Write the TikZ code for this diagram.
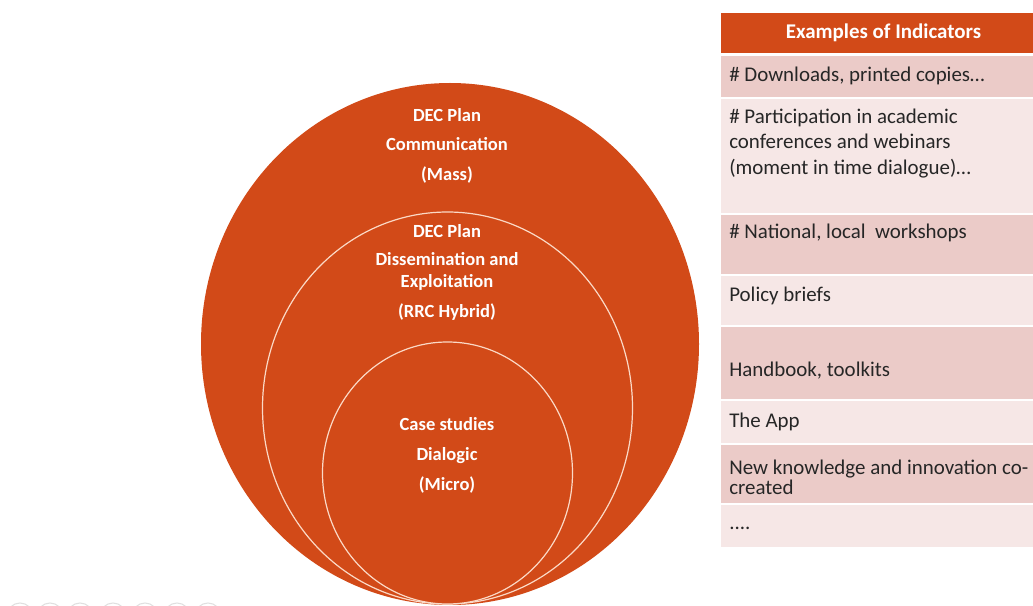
\documentclass[tikz,border=0pt]{standalone}
\usepackage{fontspec}
\setmainfont{Carlito}
\definecolor{orng}{HTML}{D24A18}
\definecolor{rowdark}{HTML}{EBCBC8}
\definecolor{rowlight}{HTML}{F6E7E6}
\definecolor{ringline}{HTML}{FBD9C6}
\tikzset{
  ctext/.style={anchor=base, text=white, font=\fontsize{13.9}{16.5}\selectfont\bfseries, inner sep=0pt, align=center},
  ttext/.style={anchor=base west, text=black!85, font=\fontsize{15.7}{19.1}\selectfont, inner sep=0pt, align=left},
  ring/.style={draw=ringline, line width=0.9pt, fill=orng},
  cell/.style={anchor=north west, inner sep=0pt, draw=none},
}
\begin{document}
\begin{tikzpicture}[x=0.75pt, y=-0.75pt]
\useasboundingbox (0,0) rectangle (1033,606);
\fill[white] (0,0) rectangle (1033,606);
% faint navigation dots
\foreach \cx in {20,50,80,113,145,177,208}
  \draw[black!12, line width=0.8pt] (\cx,616) circle (13);
% circles
\fill[orng] (450,344) ellipse (249 and 261);
\draw[ring] (447.5,408) ellipse (185 and 196);
\draw[ring] (447.5,473) ellipse (125 and 131);
% circle texts
\node[ctext] (c1a) at (447,122) {DEC Plan};
\node[ctext] (c1b) at (447,151) {Communication};
\node[ctext] (c1c) at (447,181) {(Mass)};
\node[ctext] (c2a) at (447,238) {DEC Plan};
\node[ctext] (c2b) at (447,266) {Dissemination and};
\node[ctext] (c2c) at (447,288) {Exploitation};
\node[ctext] (c2d) at (447,318) {(RRC Hybrid)};
\node[ctext] (c3a) at (447,431) {Case studies};
\node[ctext] (c3b) at (447,460) {Dialogic};
\node[ctext] (c3c) at (447,490) {(Micro)};
% table
\fill[orng] (721,13) rectangle (1046,53);
\fill[rowdark]  (721,56) rectangle (1046,97);
\fill[rowlight] (721,99) rectangle (1046,213);
\fill[rowdark]  (721,215) rectangle (1046,274);
\fill[rowlight] (721,276) rectangle (1046,325);
\fill[rowdark]  (721,327) rectangle (1046,399);
\fill[rowlight] (721,401) rectangle (1046,443);
\fill[rowdark]  (721,445) rectangle (1046,503);
\fill[rowlight] (721,505) rectangle (1046,547);
\node[anchor=base, text=white, font=\fontsize{15.7}{19.1}\selectfont\bfseries, inner sep=0pt] (hdr) at (883.5,39) {Examples of Indicators};
\node[ttext] (t1) at (729,82) {\# Downloads, printed copies…};
\node[ttext] (t2a) at (729,124) {\# Participation in academic};
\node[ttext] (t2b) at (729,149) {conferences and webinars};
\node[ttext] (t2c) at (729,175) {(moment in time dialogue)…};
\node[ttext] (t3) at (729,239) {\# National, local\ \ workshops};
\node[ttext] (t4) at (729,302) {Policy briefs};
\node[ttext] (t5) at (729,377) {Handbook, toolkits};
\node[ttext] (t6) at (729,427) {The App};
\node[ttext] (t7a) at (729,474) {New knowledge and innovation co-};
\node[ttext] (t7b) at (729,494) {created};
\node[ttext] (t8) at (729,529) {....};
\end{tikzpicture}
\end{document}
